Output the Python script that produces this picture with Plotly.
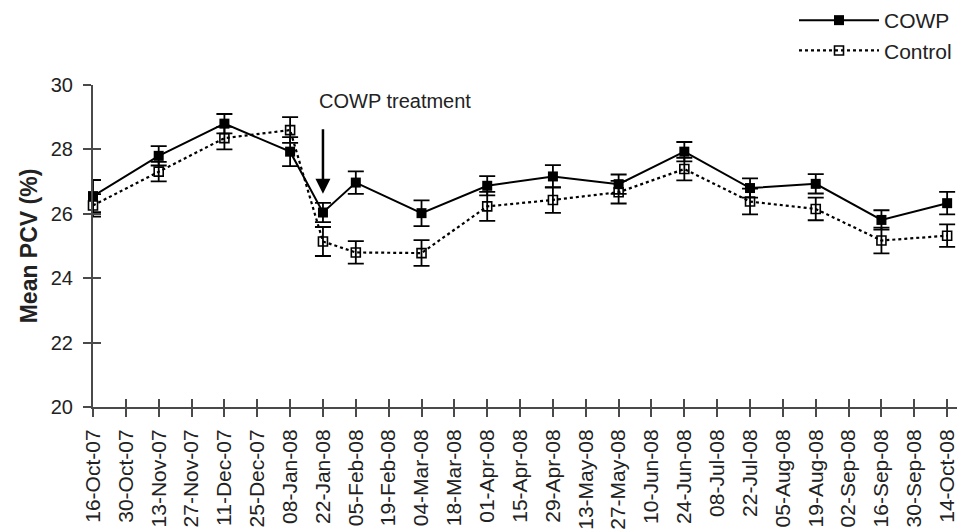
import plotly.graph_objects as go

# ---- data ----
all_dates = ["16-Oct-07", "30-Oct-07", "13-Nov-07", "27-Nov-07", "11-Dec-07", "25-Dec-07",
             "08-Jan-08", "22-Jan-08", "05-Feb-08", "19-Feb-08", "04-Mar-08", "18-Mar-08",
             "01-Apr-08", "15-Apr-08", "29-Apr-08", "13-May-08", "27-May-08", "10-Jun-08",
             "24-Jun-08", "08-Jul-08", "22-Jul-08", "05-Aug-08", "19-Aug-08", "02-Sep-08",
             "16-Sep-08", "30-Sep-08", "14-Oct-08"]
sample_dates = ["16-Oct-07", "13-Nov-07", "11-Dec-07", "08-Jan-08", "22-Jan-08", "05-Feb-08",
                "04-Mar-08", "01-Apr-08", "29-Apr-08", "27-May-08", "24-Jun-08", "22-Jul-08",
                "19-Aug-08", "16-Sep-08", "14-Oct-08"]
cowp_mean = [26.55, 27.8, 28.8, 27.93, 26.04, 26.97, 26.02, 26.87, 27.16, 26.92, 27.93,
             26.8, 26.93, 25.81, 26.33]
cowp_err = [0.5, 0.3, 0.3, 0.45, 0.3, 0.35, 0.4, 0.3, 0.35, 0.3, 0.3, 0.3, 0.3, 0.3, 0.35]
control_mean = [26.26, 27.31, 28.35, 28.6, 25.14, 24.8, 24.78, 26.23, 26.43, 26.67, 27.39,
                26.38, 26.15, 25.17, 25.32]
control_err = [0.35, 0.3, 0.35, 0.4, 0.45, 0.35, 0.4, 0.45, 0.4, 0.35, 0.35, 0.4, 0.35, 0.4, 0.35]
y_ticks = [20, 22, 24, 26, 28, 30]

FONT = "Liberation Sans, Arial, sans-serif"
AXC = "#4a4a4a"

fig = go.Figure()
fig.add_trace(go.Scatter(
    x=sample_dates, y=cowp_mean, name="COWP", mode="lines+markers",
    line=dict(color="black", width=2),
    marker=dict(symbol="square", size=10, color="black"),
    error_y=dict(type="data", array=cowp_err, visible=True, color="black", thickness=1.8, width=8),
    cliponaxis=False,
))
fig.add_trace(go.Scatter(
    x=sample_dates, y=control_mean, name="Control", mode="lines+markers",
    line=dict(color="black", width=2.2, dash="dot"),
    marker=dict(symbol="square-open", size=9, color="black", line=dict(width=1.6)),
    error_y=dict(type="data", array=control_err, visible=True, color="black", thickness=1.8, width=8),
    cliponaxis=False,
))
# invisible helper trace so the overlay axes (crossing ticks) are drawn
fig.add_trace(go.Scatter(x=[all_dates[0]], y=[y_ticks[0]], xaxis="x2", yaxis="y2",
                         mode="markers", marker=dict(opacity=0), showlegend=False,
                         hoverinfo="skip"))

fig.add_annotation(x=sample_dates[4], y=26.62, xref="x", yref="y", text="",
                   showarrow=True, arrowhead=2, arrowsize=1.2, arrowwidth=2.5,
                   arrowcolor="black", ax=0, ay=-66)
fig.add_annotation(x=sample_dates[4], y=29.5, xref="x", yref="y", text="COWP treatment",
                   showarrow=False, xanchor="left", xshift=-6, yanchor="middle",
                   font=dict(size=20, color="#222", family=FONT))

axis_common = dict(showline=True, linecolor=AXC, linewidth=2, showgrid=False, zeroline=False,
                   tickcolor=AXC, tickwidth=1.6, ticklen=8)
fig.update_layout(
    width=957, height=529,
    margin=dict(l=93, r=0, t=85, b=122),
    paper_bgcolor="white", plot_bgcolor="white",
    font=dict(family=FONT, color="#222"),
    showlegend=True,
    legend=dict(x=1.0, xanchor="right", y=1.0, yref="container", yanchor="top",
                font=dict(size=21, family=FONT, color="#222"), bgcolor="rgba(0,0,0,0)",
                itemwidth=80, tracegroupgap=0),
    xaxis=dict(type="category", categoryorder="array", categoryarray=all_dates,
               range=[0, 26.3], tickmode="array", tickvals=all_dates, ticktext=all_dates,
               tickangle=-90, ticks="outside", tickfont=dict(size=21, family=FONT, color="#222"),
               ticklabelstandoff=4, **axis_common),
    yaxis=dict(range=[20, 30], tickvals=y_ticks, ticks="outside",
               tickfont=dict(size=20, family=FONT, color="#222"), ticklabelstandoff=6,
               title=dict(text="<b>Mean PCV (%)</b>", font=dict(size=23, family=FONT, color="#222"),
                          standoff=7),
               **axis_common),
    xaxis2=dict(overlaying="x", matches="x", type="category", categoryorder="array",
                categoryarray=all_dates, tickmode="array", tickvals=all_dates,
                ticks="inside", showticklabels=False, showline=False, showgrid=False,
                zeroline=False, tickcolor=AXC, tickwidth=1.6, ticklen=8, side="bottom"),
    yaxis2=dict(overlaying="y", matches="y", tickvals=y_ticks, ticks="inside",
                showticklabels=False, showline=False, showgrid=False, zeroline=False,
                tickcolor=AXC, tickwidth=1.6, ticklen=8, side="left"),
)

fig.write_html("out.html")
